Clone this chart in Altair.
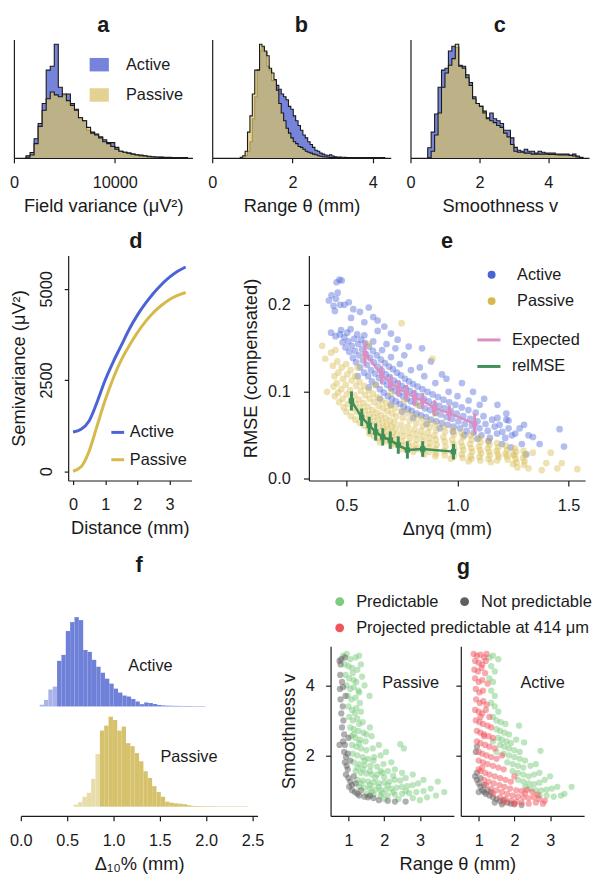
import altair as alt
import pandas as pd

FONT = "Liberation Sans"
INK = "#1a1a1a"
BLUE_H, YEL_H = "#7584da", "#d9c268"
BLUE, YEL = "#4a63d6", "#d6b94a"
PINK, GREEN_E = "#d98fc4", "#3f8f58"
F_BLUE_D, F_BLUE_L = "#6f80d8", "#a9b3ea"
F_YEL_D, F_YEL_L = "#d6c26c", "#e8dca8"
G_GREEN, G_GREY, G_RED = "#7ccb7e", "#5f5f5f", "#f2545b"

# ------------------------------------------------------------------ values
a_bin_start, a_bin_width = 1200, 400
a_active = [2.3, 5.7, 20, 36, 57, 92, 96, 119, 74, 66, 67, 57, 51, 42, 39, 29, 27, 25, 22, 19,
            16, 16, 11, 7, 6, 5, 4, 3.3, 3, 2.3, 1.7, 1.3, 1, 0.8, 0.7, 0.6, 0.5, 0.5, 0.4, 0.4]
a_passive = [0.7, 3, 15, 33, 50, 62, 69, 66, 64, 67, 60, 55, 50, 42, 39, 32, 26, 24, 21, 17,
             15, 12, 9, 7, 6, 5, 4, 3, 2.3, 2, 1.3, 1, 0.7, 0.6, 0.5, 0.4, 0.4, 0.3, 0.3, 0.3]
b_bin_start, b_bin_width = 0.70, 0.06
b_active = [0, 0.7, 2.3, 7, 17, 41, 64, 92, 112, 116, 111, 96, 92, 81, 81, 76, 72, 67, 64, 61,
            54, 51, 44, 39, 34, 29, 24, 21, 17, 14, 11, 8, 7, 5, 4, 3, 2.3, 3.3, 2, 1.3,
            1, 0.8, 0.7, 0.6, 0.5, 0.5, 0.4, 0.4, 0.4, 0.3, 0.3, 0.3, 0.3, 0.3, 0.3, 0.3,
            0.3, 0.3, 0.3, 0.3]
b_passive = [0.7, 2.3, 7, 27, 44, 67, 92, 92, 119, 117, 112, 107, 94, 89, 82, 71, 57, 47, 39, 31,
             26, 21, 17, 15, 12, 11, 9, 7, 6, 5, 4, 3.3, 2.3, 1.7, 1.3, 1, 0.7, 0.5, 0.5, 0.3,
             0.3, 0.3]
c_bin_start, c_bin_width = 0.5, 0.1
c_active = [10.7, 27, 46, 74, 92, 94, 112, 117, 116, 97, 96, 87, 79, 64, 57, 54, 49, 42, 47, 41,
            39, 36, 29, 29, 21, 11, 8, 7, 9, 7, 7, 5, 7, 6, 5, 5, 5, 4, 4, 4, 4, 3, 4, 2, 0.7]
c_passive = [0, 7, 24, 47, 74, 89, 97, 104, 119, 96, 94, 84, 76, 62, 57, 54, 47, 41, 39, 37,
             34, 32, 26, 22, 14, 7, 6, 6, 5, 5, 4, 4, 4, 4, 4, 3.5, 3.5, 3.3, 3, 3, 3, 2.5, 2, 1, 0.5]

d_dist = [0, 0.25, 0.5, 0.75, 1.0, 1.25, 1.5, 1.75, 2.0, 2.25, 2.5, 2.75, 3.0, 3.25, 3.5]
d_active = [1075, 1150, 1380, 1900, 2500, 3000, 3450, 3900, 4280, 4600, 4880, 5120, 5320, 5480, 5600]
d_passive = [0, 120, 550, 1250, 1950, 2550, 3050, 3450, 3800, 4100, 4350, 4550, 4710, 4820, 4900]

e_active_pts = [
    (0.455, 0.226), (0.468, 0.229), (0.478, 0.228), (0.42, 0.205), (0.432, 0.211), (0.441, 0.199),
    (0.452, 0.207), (0.46, 0.214), (0.447, 0.193), (0.471, 0.2), (0.49, 0.2), (0.51, 0.203),
    (0.53, 0.195), (0.56, 0.192), (0.6, 0.197), (0.62, 0.186), (0.64, 0.182), (0.58, 0.18),
    (0.52, 0.185), (0.67, 0.175), (0.7, 0.167), (0.73, 0.16), (0.78, 0.152), (0.84, 0.15),
    (0.88, 0.135), (0.95, 0.115), (1.02, 0.11), (1.07, 0.1), (1.12, 0.092), (1.18, 0.085),
    (1.22, 0.075), (1.23, 0.067), (1.28, 0.058), (1.32, 0.05), (1.37, 0.04), (1.46, 0.057),
    (1.48, 0.037), (1.29, 0.04), (1.24, 0.036), (1.31, 0.028), (0.43, 0.168), (0.45, 0.164),
    (0.47, 0.166), (0.475, 0.171), (0.482, 0.157), (0.49, 0.163), (0.495, 0.151), (0.503, 0.168),
    (0.508, 0.158), (0.512, 0.146), (0.518, 0.172), (0.523, 0.153), (0.528, 0.139), (0.534, 0.161),
    (0.538, 0.147), (0.543, 0.134), (0.548, 0.166), (0.552, 0.155), (0.556, 0.142), (0.561, 0.128),
    (0.565, 0.16), (0.57, 0.149), (0.574, 0.136), (0.579, 0.122), (0.583, 0.156), (0.588, 0.143),
    (0.592, 0.131), (0.597, 0.118), (0.601, 0.152), (0.606, 0.139), (0.61, 0.125), (0.614, 0.112),
    (0.619, 0.147), (0.623, 0.134), (0.628, 0.121), (0.632, 0.108), (0.637, 0.142), (0.641, 0.129),
    (0.646, 0.116), (0.65, 0.103), (0.655, 0.137), (0.659, 0.124), (0.664, 0.112), (0.668, 0.099),
    (0.673, 0.133), (0.677, 0.12), (0.682, 0.108), (0.686, 0.095), (0.691, 0.129), (0.695, 0.117),
    (0.7, 0.104), (0.704, 0.092), (0.709, 0.126), (0.713, 0.113), (0.718, 0.101), (0.722, 0.089),
    (0.727, 0.122), (0.731, 0.11), (0.736, 0.098), (0.74, 0.086), (0.745, 0.119), (0.749, 0.107),
    (0.754, 0.095), (0.758, 0.083), (0.763, 0.115), (0.767, 0.104), (0.772, 0.092), (0.776, 0.08),
    (0.781, 0.112), (0.785, 0.101), (0.79, 0.089), (0.794, 0.078), (0.8, 0.109), (0.805, 0.098),
    (0.81, 0.087), (0.815, 0.075), (0.82, 0.106), (0.826, 0.095), (0.831, 0.084), (0.836, 0.073),
    (0.842, 0.103), (0.848, 0.092), (0.853, 0.081), (0.858, 0.071), (0.865, 0.1), (0.87, 0.089),
    (0.876, 0.079), (0.881, 0.068), (0.888, 0.097), (0.894, 0.086), (0.9, 0.076), (0.905, 0.066),
    (0.912, 0.094), (0.918, 0.084), (0.924, 0.074), (0.93, 0.064), (0.937, 0.091), (0.943, 0.081),
    (0.95, 0.071), (0.956, 0.062), (0.963, 0.088), (0.97, 0.078), (0.976, 0.069), (0.983, 0.06),
    (0.99, 0.085), (0.997, 0.075), (1.004, 0.066), (1.011, 0.058), (1.019, 0.082), (1.026, 0.072),
    (1.033, 0.063), (1.041, 0.055), (1.049, 0.079), (1.057, 0.069), (1.065, 0.061), (1.073, 0.053),
    (1.082, 0.076), (1.09, 0.066), (1.099, 0.058), (1.108, 0.05), (1.117, 0.072), (1.126, 0.063),
    (1.136, 0.055), (1.146, 0.047), (1.156, 0.068), (1.167, 0.06), (1.178, 0.052), (1.19, 0.062),
    (1.202, 0.054), (1.215, 0.047), (1.23, 0.058), (1.245, 0.05), (0.58, 0.165), (0.62, 0.158),
    (0.66, 0.148), (0.7, 0.14), (0.74, 0.132), (0.79, 0.125), (0.85, 0.118), (0.9, 0.11),
    (0.96, 0.1), (1.0, 0.095), (1.05, 0.09), (1.1, 0.085), (0.6, 0.105), (0.65, 0.092),
    (0.7, 0.085), (0.75, 0.077), (0.8, 0.07), (0.86, 0.063), (0.92, 0.058), (0.98, 0.054),
    (1.03, 0.05), (1.09, 0.046), (1.14, 0.043), (1.2, 0.04), (1.18, 0.07), (1.22, 0.068),
    (1.26, 0.052), (1.3, 0.062), (1.34, 0.048), (0.55, 0.118), (0.68, 0.155), (0.76, 0.142),
    (0.83, 0.128), (0.93, 0.12), (0.64, 0.17), (0.72, 0.15),
]
e_passive_pts = [
    (0.39, 0.153), (0.404, 0.138), (0.412, 0.1), (0.43, 0.145), (0.45, 0.148), (0.748, 0.179),
    (0.887, 0.138), (0.58, 0.14), (0.6, 0.155), (0.55, 0.128), (0.63, 0.108), (0.7, 0.098),
    (0.76, 0.09), (0.82, 0.085), (0.9, 0.075),
    (0.438, 0.13), (0.445, 0.118), (0.441, 0.106), (0.447, 0.095),
    (0.458, 0.135), (0.463, 0.122), (0.456, 0.11), (0.462, 0.099), (0.466, 0.088),
    (0.478, 0.128), (0.484, 0.115), (0.476, 0.103), (0.482, 0.092), (0.487, 0.082),
    (0.498, 0.132), (0.503, 0.12), (0.496, 0.108), (0.501, 0.097), (0.506, 0.086), (0.499, 0.077),
    (0.518, 0.125), (0.523, 0.113), (0.516, 0.102), (0.521, 0.091), (0.526, 0.081), (0.52, 0.072),
    (0.538, 0.118), (0.544, 0.107), (0.536, 0.096), (0.541, 0.086), (0.546, 0.077), (0.54, 0.068),
    (0.558, 0.112), (0.564, 0.101), (0.556, 0.091), (0.562, 0.082), (0.566, 0.073), (0.559, 0.064),
    (0.578, 0.107), (0.584, 0.096), (0.576, 0.087), (0.582, 0.078), (0.586, 0.069), (0.579, 0.061),
    (0.598, 0.102), (0.604, 0.092), (0.596, 0.083), (0.602, 0.074), (0.606, 0.066), (0.599, 0.058),
    (0.603, 0.052),
    (0.618, 0.098), (0.624, 0.088), (0.616, 0.079), (0.622, 0.071), (0.626, 0.063), (0.619, 0.055),
    (0.623, 0.049),
    (0.638, 0.094), (0.644, 0.084), (0.636, 0.076), (0.642, 0.068), (0.646, 0.06), (0.639, 0.053),
    (0.643, 0.047),
    (0.658, 0.09), (0.664, 0.081), (0.656, 0.073), (0.662, 0.065), (0.666, 0.058), (0.659, 0.051),
    (0.663, 0.045),
    (0.678, 0.087), (0.684, 0.078), (0.676, 0.07), (0.682, 0.062), (0.686, 0.055), (0.679, 0.049),
    (0.683, 0.043),
    (0.698, 0.084), (0.704, 0.075), (0.696, 0.067), (0.702, 0.06), (0.706, 0.053), (0.699, 0.047),
    (0.703, 0.041),
    (0.718, 0.081), (0.724, 0.072), (0.716, 0.065), (0.722, 0.058), (0.726, 0.051), (0.719, 0.045),
    (0.723, 0.04),
    (0.748, 0.078), (0.754, 0.07), (0.746, 0.062), (0.752, 0.055), (0.756, 0.049), (0.749, 0.043),
    (0.753, 0.038),
    (0.778, 0.075), (0.784, 0.067), (0.776, 0.06), (0.782, 0.053), (0.786, 0.047), (0.779, 0.041),
    (0.783, 0.036),
    (0.808, 0.072), (0.814, 0.064), (0.806, 0.057), (0.812, 0.051), (0.816, 0.045), (0.809, 0.039),
    (0.813, 0.034),
    (0.838, 0.069), (0.844, 0.061), (0.836, 0.055), (0.842, 0.049), (0.846, 0.043), (0.839, 0.037),
    (0.843, 0.032),
    (0.868, 0.066), (0.874, 0.059), (0.866, 0.053), (0.872, 0.047), (0.876, 0.041), (0.869, 0.036),
    (0.873, 0.031),
    (0.898, 0.063), (0.904, 0.056), (0.896, 0.05), (0.902, 0.045), (0.906, 0.039), (0.899, 0.034),
    (0.903, 0.029),
    (0.938, 0.06), (0.944, 0.054), (0.936, 0.048), (0.942, 0.043), (0.946, 0.037), (0.939, 0.032),
    (0.943, 0.027),
    (0.978, 0.057), (0.984, 0.051), (0.976, 0.045), (0.982, 0.04), (0.986, 0.035), (0.979, 0.03),
    (0.983, 0.026),
    (1.018, 0.053), (1.024, 0.048), (1.016, 0.042), (1.022, 0.037), (1.026, 0.033), (1.019, 0.028),
    (1.023, 0.024),
    (1.058, 0.05), (1.064, 0.045), (1.056, 0.04), (1.062, 0.035), (1.066, 0.031), (1.059, 0.026),
    (1.063, 0.023),
    (1.098, 0.047), (1.104, 0.042), (1.096, 0.037), (1.102, 0.033), (1.106, 0.029), (1.099, 0.025),
    (1.103, 0.021),
    (1.138, 0.044), (1.144, 0.039), (1.136, 0.035), (1.142, 0.031), (1.146, 0.027), (1.139, 0.023),
    (1.178, 0.041), (1.184, 0.036), (1.176, 0.032), (1.182, 0.028), (1.186, 0.025), (1.179, 0.021),
    (1.218, 0.038), (1.224, 0.033), (1.216, 0.029), (1.222, 0.026), (1.226, 0.022),
    (1.258, 0.035), (1.264, 0.031), (1.256, 0.027), (1.262, 0.023), (1.266, 0.019),
    (1.298, 0.032), (1.304, 0.028), (1.296, 0.024), (1.302, 0.02),
    (0.7, 0.038), (0.8, 0.031), (0.9, 0.026), (0.97, 0.023), (1.05, 0.02), (1.15, 0.019),
    (1.25, 0.017), (0.75, 0.034), (0.65, 0.042), (0.85, 0.028),
    (1.34, 0.03), (1.38, 0.01), (1.42, 0.03), (1.4, 0.018), (1.45, 0.012), (1.47, 0.018),
    (1.54, 0.011), (1.32, 0.012), (1.3, 0.016), (1.25, 0.028), (1.27, 0.013),
]
e_exp_x = [0.583, 0.658, 0.699, 0.735, 0.770, 0.807, 0.843, 0.897, 0.963, 1.077]
e_exp_y = [0.144, 0.1195, 0.110, 0.1037, 0.0989, 0.0932, 0.0895, 0.0812, 0.0755, 0.0631]
e_exp_err = [0.014, 0.010, 0.009, 0.009, 0.009, 0.009, 0.009, 0.009, 0.009, 0.012]
e_rel_x = [0.522, 0.568, 0.602, 0.631, 0.663, 0.697, 0.733, 0.774, 0.843, 0.982]
e_rel_y = [0.0895, 0.0707, 0.0613, 0.0538, 0.0481, 0.0444, 0.0387, 0.0331, 0.0342, 0.0312]
e_rel_err = [0.011, 0.010, 0.010, 0.010, 0.010, 0.010, 0.010, 0.010, 0.009, 0.009]

f_bin_width = 0.047
f_act_start, f_act_thresh = 0.203, 0.437
f_active = [1.7, 6.5, 17, 20, 46, 52, 76, 85, 90, 87, 57, 55, 47, 40, 34, 28, 23, 18, 14, 11,
            10, 7.5, 5, 2.3, 4, 3.5, 2.5, 1.5, 1, 0.8, 0.7, 0.6, 0.5, 0.5, 0.5, 0.4, 0.4, 0.4]
f_pas_start, f_pas_thresh = 0.571, 0.853
f_passive = [2, 4.5, 10, 14, 28, 53, 76.7, 81.7, 90.7, 87.3, 76.7, 80.7, 64, 61, 54, 45.7, 35.7,
             29, 20.7, 14.7, 10, 5, 4, 3.3, 3, 2.5, 1.5, 0.8, 0.7, 0.6, 0.5, 0.5, 0.5, 0.4, 0.4,
             0.4, 0.4, 0.4, 0.4, 0.4]
f_baselines = {"Active": 110.3, "Passive": 9.3}
f_labels = ["Active", "Passive"]
f_label_x = [1.16, 1.507]
f_label_y = [151, 59.3]

g_classes = ["Predictable", "Not predictable", "Projected predictable at 414 μm"]
gp_green = [
    (0.85, 4.85), (0.95, 4.9), (1.05, 4.75), (1.2, 4.8), (1.3, 4.85), (0.9, 4.6), (1.0, 4.55),
    (1.1, 4.5), (1.25, 4.45), (1.35, 4.6), (0.92, 4.3), (1.02, 4.2), (1.12, 4.35), (1.22, 4.1),
    (1.38, 4.25), (0.95, 4.0), (1.05, 3.9), (1.15, 3.95), (1.28, 3.85), (1.45, 4.0), (0.98, 3.7),
    (1.08, 3.6), (1.2, 3.65), (1.32, 3.5), (1.0, 3.4), (1.1, 3.3), (1.22, 3.35), (1.35, 3.25),
    (1.59, 3.7), (1.02, 3.1), (1.12, 3.0), (1.25, 3.05), (1.4, 2.95), (1.05, 2.8), (1.15, 2.75),
    (1.28, 2.7), (1.42, 2.65), (1.6, 2.8), (1.08, 2.55), (1.2, 2.5), (1.33, 2.45), (1.48, 2.4),
    (1.65, 2.55), (1.1, 2.3), (1.22, 2.25), (1.35, 2.2), (1.5, 2.15), (1.68, 2.2), (1.85, 2.3),
    (1.12, 2.05), (1.25, 2.0), (1.4, 1.95), (1.55, 1.9), (1.72, 1.95), (1.9, 2.0), (2.05, 2.1),
    (1.15, 1.8), (1.3, 1.75), (1.45, 1.72), (1.62, 1.7), (1.8, 1.68), (1.98, 1.75), (2.2, 1.8),
    (2.45, 2.32), (2.55, 2.2), (1.2, 1.55), (1.35, 1.5), (1.5, 1.48), (1.65, 1.45), (1.8, 1.45),
    (1.95, 1.5), (2.1, 1.55), (2.3, 1.6), (2.5, 1.5), (1.25, 1.3), (1.4, 1.28), (1.55, 1.25),
    (1.7, 1.22), (1.85, 1.2), (2.0, 1.22), (2.15, 1.25), (2.3, 1.3), (2.45, 1.28), (2.6, 1.35),
    (2.8, 1.45), (1.3, 1.1), (1.45, 1.08), (1.6, 1.05), (1.75, 1.02), (1.9, 1.0), (2.05, 1.02),
    (2.2, 1.05), (2.35, 1.08), (2.5, 1.1), (2.65, 1.12), (2.8, 1.15), (2.95, 1.2), (3.1, 1.3),
    (1.5, 0.9), (1.7, 0.88), (1.9, 0.85), (2.1, 0.85), (2.3, 0.88), (2.5, 0.9), (2.7, 0.92),
    (2.9, 0.95), (3.1, 0.98), (3.3, 1.05), (3.5, 1.25), (3.68, 0.95), (3.45, 0.85), (3.2, 0.8),
    (2.0, 0.75), (2.4, 0.75), (2.8, 0.78), (3.0, 0.72), (1.15, 2.6), (1.3, 2.9), (1.18, 3.2),
    (1.3, 3.8), (1.15, 4.15), (1.4, 1.6), (1.6, 1.55), (1.75, 1.35), (2.0, 1.38), (2.25, 1.42),
    (1.6, 1.15), (1.85, 1.1), (2.1, 1.15), (2.6, 0.98), (2.25, 0.95), (1.95, 0.92), (1.65, 0.95),
    (1.35, 1.2), (1.25, 1.65), (1.45, 1.85), (1.7, 1.85), (1.3, 2.35), (1.5, 2.6), (1.9, 1.55),
]
gp_grey = [
    (0.75, 4.7), (0.78, 4.6), (0.8, 4.75), (0.9, 4.8), (0.77, 4.3), (0.82, 4.1), (0.76, 3.9),
    (0.85, 3.95), (0.92, 3.7), (0.78, 3.6), (0.84, 3.4), (0.8, 3.2), (0.86, 3.0), (0.82, 2.8),
    (0.88, 2.6), (0.85, 2.4), (0.9, 2.3), (0.75, 2.3), (0.88, 2.1), (0.93, 1.95), (0.9, 1.8),
    (0.95, 1.7), (0.98, 1.6), (0.93, 1.45), (1.0, 1.35), (1.05, 1.25), (1.02, 1.1), (1.1, 1.15),
    (1.1, 1.0), (1.18, 0.95), (1.25, 0.9), (1.3, 0.85), (1.45, 0.82), (1.55, 0.8), (1.7, 0.78),
    (1.85, 0.72), (2.1, 0.7), (2.3, 0.68), (2.6, 0.68), (1.2, 1.2), (1.15, 1.4), (1.05, 1.85),
    (0.98, 2.05), (1.0, 2.5), (1.35, 1.0), (1.6, 0.85),
]
ga_red = [
    (0.86, 4.9), (0.95, 4.85), (1.05, 4.88), (1.15, 4.8), (1.22, 4.9), (0.9, 4.7), (1.0, 4.65),
    (1.1, 4.6), (1.2, 4.7), (0.88, 4.45), (0.98, 4.4), (1.08, 4.5), (1.18, 4.35), (0.9, 4.2),
    (1.0, 4.1), (1.1, 4.15), (1.25, 4.05), (0.92, 3.9), (1.02, 3.8), (1.12, 3.85), (0.93, 3.6),
    (1.03, 3.5), (1.13, 3.55), (1.22, 3.45), (0.9, 3.3), (1.0, 3.25), (1.1, 3.2), (1.2, 3.3),
    (1.3, 3.1), (0.92, 3.0), (1.02, 2.95), (1.12, 2.9), (1.25, 2.85), (1.35, 2.8), (0.95, 2.7),
    (1.05, 2.65), (1.15, 2.6), (1.28, 2.55), (1.4, 2.5), (0.95, 2.4), (1.05, 2.35), (1.18, 2.3),
    (1.3, 2.25), (1.45, 2.2), (1.0, 2.1), (1.1, 2.05), (1.22, 2.0), (1.35, 1.95), (1.5, 1.9),
    (1.65, 2.0), (1.0, 1.85), (1.12, 1.8), (1.25, 1.75), (1.4, 1.7), (1.55, 1.65), (1.7, 1.6),
    (1.05, 1.55), (1.18, 1.5), (1.3, 1.45), (1.45, 1.4), (1.6, 1.35), (1.75, 1.3), (1.9, 1.25),
    (2.0, 1.4), (1.15, 1.3), (1.28, 1.25), (1.42, 1.2), (1.58, 1.15), (1.72, 1.1), (1.88, 1.05),
    (2.05, 1.0), (2.2, 0.98), (2.35, 1.02), (1.35, 1.05), (1.5, 1.0), (1.65, 0.95), (1.8, 0.9),
    (1.95, 0.85), (2.1, 0.82), (2.25, 0.8), (2.4, 0.78), (2.55, 0.8), (2.7, 0.75), (2.85, 0.7),
    (1.6, 0.8), (1.75, 0.75), (1.9, 0.7), (2.05, 0.68), (2.2, 0.65), (2.4, 0.62), (2.6, 0.65),
    (2.8, 0.62), (1.7, 0.65), (2.0, 0.6), (2.3, 0.92), (2.5, 0.95), (2.65, 0.88), (1.15, 2.55),
    (1.05, 3.1), (1.0, 1.6), (1.1, 1.65), (1.2, 1.15), (1.4, 0.9),
]
ga_green = [
    (1.3, 4.8), (1.4, 4.85), (1.55, 4.75), (1.35, 4.55), (1.45, 4.4), (1.3, 4.2), (1.4, 4.1),
    (1.35, 3.85), (1.45, 3.7), (1.35, 3.5), (1.45, 3.4), (1.55, 3.25), (1.4, 3.1), (1.5, 3.0),
    (1.62, 2.95), (1.75, 2.9), (1.5, 2.75), (1.6, 2.7), (1.72, 2.65), (1.85, 2.6), (1.55, 2.5),
    (1.65, 2.45), (1.78, 2.4), (1.9, 2.35), (2.05, 2.45), (1.6, 2.3), (1.72, 2.25), (1.85, 2.2),
    (2.0, 2.15), (2.15, 2.1), (2.27, 2.37), (2.13, 2.85), (2.73, 2.13), (1.7, 2.05), (1.85, 2.0),
    (2.0, 1.95), (2.15, 1.9), (2.3, 1.85), (1.8, 1.8), (1.95, 1.75), (2.1, 1.7), (2.25, 1.65),
    (2.45, 1.7), (2.6, 1.75), (1.95, 1.55), (2.1, 1.5), (2.25, 1.45), (2.4, 1.4), (2.55, 1.45),
    (2.7, 1.5), (2.1, 1.3), (2.25, 1.25), (2.4, 1.2), (2.55, 1.18), (2.7, 1.22), (2.85, 1.3),
    (3.0, 1.4), (2.3, 1.1), (2.45, 1.05), (2.6, 1.0), (2.75, 1.0), (2.9, 1.02), (3.05, 1.05),
    (3.2, 1.1), (3.4, 0.9), (3.6, 1.1), (2.7, 0.85), (2.9, 0.85), (3.1, 0.82), (3.3, 0.85),
    (1.5, 2.1), (1.4, 2.4),
]
ga_grey = [
    (0.9, 1.4), (0.95, 1.3), (1.0, 1.2), (1.05, 1.1), (1.1, 1.0), (1.15, 0.95), (1.2, 0.9),
    (1.3, 0.85), (1.4, 0.8), (1.5, 0.75), (1.6, 0.7), (1.7, 0.72), (1.8, 0.65), (1.9, 0.62),
    (2.0, 0.62), (1.25, 1.0), (1.35, 0.95), (1.05, 1.35), (0.95, 1.5), (1.15, 1.15), (0.92, 2.1),
    (0.95, 2.25), (1.45, 0.65), (1.65, 0.6), (2.2, 0.58), (1.0, 0.95),
]

# ------------------------------------------------------------------ helpers
TITLE_KW = dict(fontSize=22, fontWeight="bold", font=FONT, baseline="alphabetic",
                anchor="middle", frame="group", color=INK)
H1, H2, H3 = 120, 228, 172
W_ABC, W_D, W_E, W_F, W_G = 181, 125, 280, 240, 125


def spacer():
    # invisible 1px cell that anchors each row at the left edge
    return alt.Chart(pd.DataFrame({"v": [0]})).mark_point(size=0, opacity=0).encode(
        x=alt.value(0), y=alt.value(0)).properties(width=1, height=1)


def hist_panel(start, width, active, passive, xdom, xticks, xfmt, xtitle, title, legend):
    area_rows, line_rows = [], []
    for name, hs in (("Active", active), ("Passive", passive)):
        edges = [start + i * width for i in range(len(hs) + 1)]
        line_rows.append(dict(series=name, x=edges[0], h=0, o=0))
        for i, h in enumerate(hs):
            area_rows.append(dict(series=name, x=edges[i], h=h))
            line_rows.append(dict(series=name, x=edges[i], h=h, o=i + 1))
        area_rows.append(dict(series=name, x=edges[-1], h=0))
        line_rows.append(dict(series=name, x=edges[-1], h=0, o=len(hs) + 1))
    area_df, line_df = pd.DataFrame(area_rows), pd.DataFrame(line_rows)
    xenc = alt.X("x:Q", scale=alt.Scale(domain=xdom, nice=False, zero=False),
                 axis=alt.Axis(values=xticks, format=xfmt, title=xtitle, labelFlush=False))
    yenc = alt.Y("h:Q", stack=None, scale=alt.Scale(domain=[0, 124], nice=False),
                 axis=alt.Axis(ticks=False, labels=False, title=None))
    col = alt.Color("series:N", scale=alt.Scale(domain=["Active", "Passive"], range=[BLUE_H, YEL_H]),
                    legend=legend)
    opa = alt.Opacity("series:N", scale=alt.Scale(domain=["Active", "Passive"], range=[1.0, 0.72]),
                      legend=legend)
    layers = []
    for name in ("Active", "Passive"):
        layers.append(alt.Chart(area_df).transform_filter(alt.datum.series == name)
                      .mark_area(interpolate="step-after")
                      .encode(x=xenc, y=yenc, color=col, opacity=opa))
        layers.append(alt.Chart(line_df).transform_filter(alt.datum.series == name)
                      .mark_line(interpolate="step-after", color=INK, strokeWidth=1.1)
                      .encode(x=xenc, y=yenc, order="o:Q"))
    return alt.layer(*layers).properties(width=W_ABC, height=H1,
                                         title=alt.TitleParams(title, offset=-14, **TITLE_KW))


# ------------------------------------------------------------------ row 1
leg_a = alt.Legend(orient="none", legendX=76, legendY=15, title=None,
                   symbolType="M-1,-0.7H1V0.7H-1Z", symbolSize=380,
                   symbolStrokeColor=INK, symbolStrokeWidth=1, labelOffset=16.6, rowPadding=10.7)
pa = hist_panel(a_bin_start, a_bin_width, a_active, a_passive, [0, 17700], [0, 10000], "d",
                "Field variance (μV²)", "a", leg_a)
pb = hist_panel(b_bin_start, b_bin_width, b_active, b_passive, [0, 4.45], [0, 2, 4], "d",
                "Range θ (mm)", "b", None)
pc = hist_panel(c_bin_start, c_bin_width, c_active, c_passive, [0, 5.18], [0, 2, 4], "d",
                "Smoothness v", "c", None)
row1_in = alt.hconcat(pa, pb, pc, spacing=15, bounds="full").resolve_scale(
    color="independent", opacity="independent")
row1 = alt.hconcat(spacer(), row1_in, spacing=0, bounds="full").resolve_scale(
    color="independent", opacity="independent")

# ------------------------------------------------------------------ row 2
n = len(d_dist)
d_df = pd.DataFrame({"dist": d_dist + d_dist, "sv": d_active + d_passive,
                     "series": ["Active"] * n + ["Passive"] * n})
pd_chart = alt.Chart(d_df).mark_line(strokeWidth=3, interpolate="monotone").encode(
    x=alt.X("dist:Q", scale=alt.Scale(domain=[-0.15, 3.68], nice=False, zero=False),
            axis=alt.Axis(values=[0, 1, 2, 3], title="Distance (mm)", labelFlush=False, tickSize=4)),
    y=alt.Y("sv:Q", scale=alt.Scale(domain=[-254, 5912], nice=False, zero=False),
            axis=alt.Axis(values=[0, 2500, 5000], format="d", title="Semivariance (μV²)",
                          labelAngle=-90, labelAlign="center", labelBaseline="alphabetic",
                          labelPadding=12.5, tickSize=4, titlePadding=11)),
    color=alt.Color("series:N", scale=alt.Scale(domain=["Active", "Passive"], range=[BLUE, YEL]),
                    legend=alt.Legend(orient="none", legendX=42, legendY=171, title=None,
                                      symbolType="stroke", symbolStrokeWidth=3, symbolSize=169,
                                      labelOffset=4, rowPadding=10.7)),
).properties(width=W_D, height=H2, title=alt.TitleParams("d", offset=-14, dx=6, **TITLE_KW))

e_pts = pd.DataFrame(
    [dict(x=x, y=y, series="Active") for x, y in e_active_pts]
    + [dict(x=x, y=y, series="Passive") for x, y in e_passive_pts])
e_err = pd.DataFrame(
    [dict(x=x, y=y, lo=y - er, hi=y + er, which="Expected")
     for x, y, er in zip(e_exp_x, e_exp_y, e_exp_err)]
    + [dict(x=x, y=y, lo=y - er, hi=y + er, which="relMSE")
       for x, y, er in zip(e_rel_x, e_rel_y, e_rel_err)])
e_xs = alt.Scale(domain=[0.33, 1.575], nice=False, zero=False)
e_ys = alt.Scale(domain=[-0.002, 0.2567], nice=False, zero=False)
e_xa = alt.Axis(values=[0.5, 1.0, 1.5], format=".1f", title="Δnyq (mm)", labelFlush=False,
                tickSize=5.5)
e_ya = alt.Axis(values=[0.0, 0.1, 0.2], format=".1f", title="RMSE (compensated)", tickSize=5.5,
                labelPadding=13.4, titlePadding=6.8)
e_scatter = alt.Chart(e_pts).mark_circle(size=46, opacity=0.42).encode(
    x=alt.X("x:Q", scale=e_xs, axis=e_xa), y=alt.Y("y:Q", scale=e_ys, axis=e_ya),
    color=alt.Color("series:N", scale=alt.Scale(domain=["Active", "Passive"], range=[BLUE, YEL]),
                    legend=alt.Legend(orient="none", legendX=177, legendY=11.2, title=None,
                                      symbolType="circle", symbolSize=64, symbolOpacity=1,
                                      labelOffset=17.5, rowPadding=9.7)))
e_col = alt.Color("which:N", scale=alt.Scale(domain=["Expected", "relMSE"], range=[PINK, GREEN_E]),
                  legend=alt.Legend(orient="none", legendX=169, legendY=72, title=None,
                                    symbolType="stroke", symbolStrokeWidth=3, symbolSize=548,
                                    labelOffset=9.8, rowPadding=4.9))
e_rules = alt.Chart(e_err).mark_rule(strokeWidth=3).encode(
    x=alt.X("x:Q", scale=e_xs, axis=e_xa), y=alt.Y("lo:Q", scale=e_ys, axis=e_ya), y2="hi:Q",
    color=e_col)
e_line = alt.Chart(e_err).mark_line(strokeWidth=2.5).encode(
    x=alt.X("x:Q", scale=e_xs, axis=e_xa), y=alt.Y("y:Q", scale=e_ys, axis=e_ya), color=e_col)
e_sq = alt.Chart(e_err).mark_square(size=30, opacity=1).encode(
    x=alt.X("x:Q", scale=e_xs, axis=e_xa), y=alt.Y("y:Q", scale=e_ys, axis=e_ya), color=e_col)
pe = alt.layer(e_scatter, alt.layer(e_rules, e_line, e_sq)).resolve_scale(
    color="independent").properties(width=W_E, height=H2,
                                    title=alt.TitleParams("e", offset=-14, **TITLE_KW))
row2_in = alt.hconcat(pd_chart, pe, spacing=50, bounds="full").resolve_scale(color="independent")
row2 = alt.hconcat(spacer(), row2_in, spacing=0, bounds="full").resolve_scale(color="independent")

# ------------------------------------------------------------------ row 3
f_rows = []
for name, start, thr, hs in (("Active", f_act_start, f_act_thresh, f_active),
                             ("Passive", f_pas_start, f_pas_thresh, f_passive)):
    base = f_baselines[name]
    for i, h in enumerate(hs):
        x0 = start + i * f_bin_width
        x1 = x0 + f_bin_width
        tone = name + ("_lo" if x1 <= thr + 1e-6 else "_hi")
        f_rows.append(dict(x0=x0, x1=x1, y0=base, y1=base + h, tone=tone))
f_df = pd.DataFrame(f_rows)
f_xs = alt.Scale(domain=[0, 2.555], nice=False, zero=False)
f_ys = alt.Scale(domain=[0, 171], nice=False, zero=False)
f_xa = alt.Axis(values=[0, 0.5, 1.0, 1.5, 2.0, 2.5], format=".1f", title="Δ₁₀% (mm)",
                labelFlush=False)
f_bars = alt.Chart(f_df).mark_rect().encode(
    x=alt.X("x0:Q", scale=f_xs, axis=f_xa), x2="x1:Q",
    y=alt.Y("y0:Q", scale=f_ys, axis=None), y2="y1:Q",
    color=alt.Color("tone:N", scale=alt.Scale(
        domain=["Active_lo", "Active_hi", "Passive_lo", "Passive_hi"],
        range=[F_BLUE_L, F_BLUE_D, F_YEL_L, F_YEL_D]), legend=None))
f_text = alt.Chart(pd.DataFrame({"x": f_label_x, "y": f_label_y, "t": f_labels})).mark_text(
    align="left", baseline="middle", fontSize=16.5, font=FONT, color=INK).encode(
    x=alt.X("x:Q", scale=f_xs, axis=f_xa), y=alt.Y("y:Q", scale=f_ys, axis=None), text="t:N")
pf = alt.layer(f_bars, f_text).properties(
    width=W_F, height=H3, title=alt.TitleParams("f", offset=24, **TITLE_KW))

g_xs = alt.Scale(domain=[0.5, 3.95], nice=False, zero=False)
g_ys = alt.Scale(domain=[0.27, 5.12], nice=False, zero=False)
g_cs = alt.Scale(domain=g_classes, range=[G_GREEN, G_GREY, G_RED])


def g_panel(groups, label, label_x, first, legend):
    rows = []
    for cls, pts in groups:
        rows += [dict(x=x, y=y, cls=cls) for x, y in pts]
    df = pd.DataFrame(rows)
    if first:
        xa = alt.Axis(values=[1, 2, 3], title="Range θ (mm)", titleX=(2 * W_G + 7) / 2,
                      labelFlush=False, tickSize=5)
        ya = alt.Axis(values=[2, 4], title="Smoothness v", labelPadding=11.6, titlePadding=7,
                      tickSize=5)
    else:
        xa = alt.Axis(values=[1, 2, 3], title=None, labelFlush=False, tickSize=5)
        ya = alt.Axis(values=[2, 4], title=None, labels=False, tickSize=5)
    pts = alt.Chart(df).mark_circle(size=40, opacity=0.5).encode(
        x=alt.X("x:Q", scale=g_xs, axis=xa), y=alt.Y("y:Q", scale=g_ys, axis=ya),
        color=alt.Color("cls:N", scale=g_cs, legend=legend))
    txt = alt.Chart(pd.DataFrame({"x": [label_x], "y": [4.07], "t": [label]})).mark_text(
        align="center", baseline="middle", fontSize=16.5, font=FONT, color=INK).encode(
        x=alt.X("x:Q", scale=g_xs, axis=xa), y=alt.Y("y:Q", scale=g_ys, axis=ya), text="t:N")
    return alt.layer(pts, txt)


LEG_G = dict(orient="none", title=None, symbolType="circle", symbolSize=80, symbolOpacity=1,
             labelOffset=8.3, labelLimit=400, labelFontSize=16.7, direction="horizontal",
             columnPadding=17.6)
leg_gP = alt.Legend(legendX=0.9, legendY=-54, values=g_classes[:2], **LEG_G)
leg_gA = alt.Legend(legendX=0.9 - (W_G + 7), legendY=-27, values=g_classes[2:], **LEG_G)
gP = g_panel([(g_classes[0], gp_green), (g_classes[1], gp_grey)], "Passive", 2.74, True,
             leg_gP).properties(width=W_G, height=H3)
gA = g_panel([(g_classes[0], ga_green), (g_classes[1], ga_grey), (g_classes[2], ga_red)],
             "Active", 2.79, False, leg_gA).properties(width=W_G, height=H3)
pg = alt.hconcat(gP, gA, spacing=7, bounds="flush").resolve_scale(color="independent").properties(
    title=alt.TitleParams("g", offset=-3, fontSize=22, fontWeight="bold", font=FONT,
                          baseline="alphabetic", anchor="middle", frame="bounds", dx=28,
                          color=INK))
row3_in = alt.hconcat(pf, pg, spacing=15, bounds="full").resolve_scale(color="independent")
row3 = alt.hconcat(spacer(), row3_in, spacing=0, bounds="full").resolve_scale(color="independent")

chart = alt.vconcat(row1, row2, row3, spacing=15).resolve_scale(
    color="independent", opacity="independent").properties(padding=0)
chart = chart.configure_view(strokeWidth=0).configure_axis(
    domainColor=INK, tickColor=INK, labelColor=INK, titleColor=INK, labelFont=FONT,
    titleFont=FONT, labelFontSize=16.5, titleFontSize=18.5, titleFontWeight="normal", grid=False,
    tickSize=5, domainWidth=1.2, tickWidth=1.2, labelPadding=12, titlePadding=6
).configure_legend(labelFont=FONT, labelFontSize=16.5, labelColor=INK, padding=0)

chart.save("out.html", embed_options={"renderer": "svg", "actions": False})
